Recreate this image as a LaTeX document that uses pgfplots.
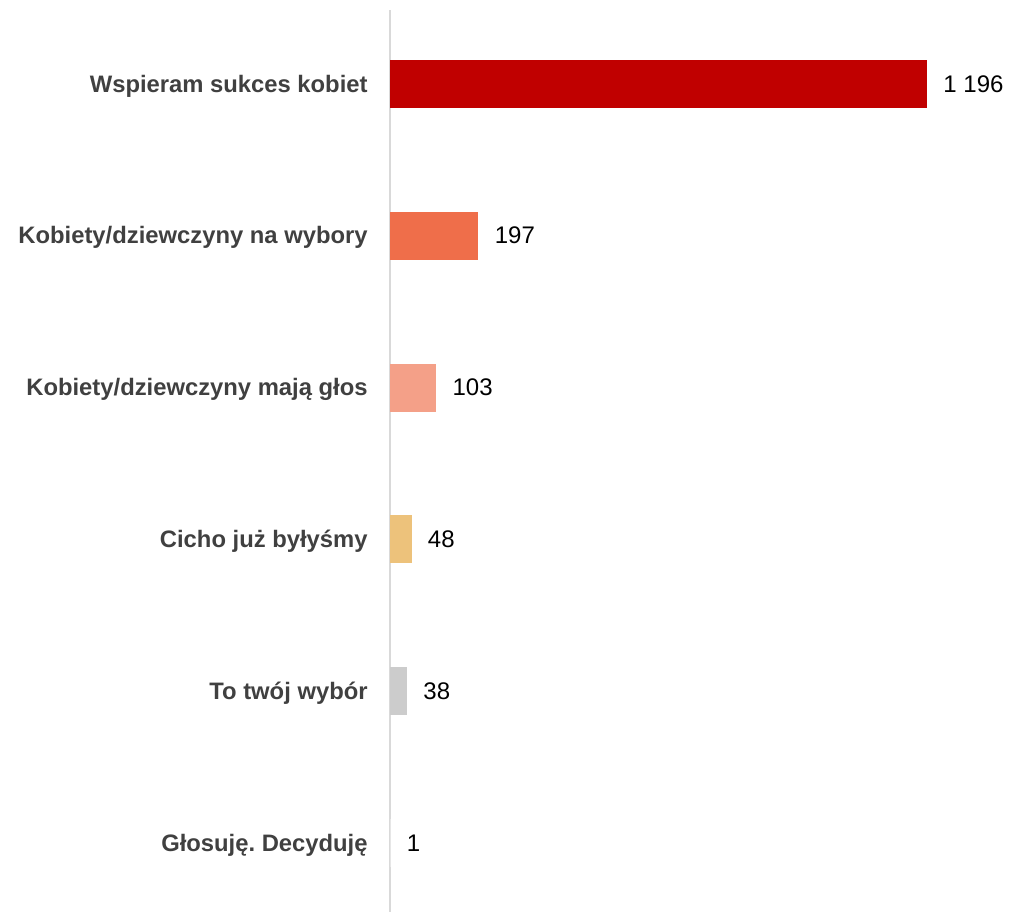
\documentclass[border=0pt]{standalone}
\usepackage{fontspec}
\setmainfont{Liberation Sans}
\usepackage{pgfplots}
\pgfplotsset{compat=1.18}
\definecolor{c1}{HTML}{C00000}
\definecolor{c2}{HTML}{EF6E4A}
\definecolor{c3}{HTML}{F4A088}
\definecolor{c4}{HTML}{EDC27B}
\definecolor{c5}{HTML}{CCCCCC}
\definecolor{c6}{HTML}{E6E6E6}
\definecolor{lab}{HTML}{404040}
\definecolor{axl}{HTML}{D9D9D9}
\begin{document}
\frenchspacing
\fontsize{12}{14.4}\selectfont
\begin{tikzpicture}
\path[use as bounding box] (0,0) rectangle (504.5pt,456pt);
\begin{axis}[
  at={(195pt,0pt)}, anchor=south west,
  scale only axis,
  width=291.9pt, height=451pt,
  xmin=0, xmax=1300,
  ymin=-0.487, ymax=5.455,
  y dir=reverse,
  axis x line=none,
  axis y line=left,
  y axis line style={draw=axl, line width=1pt, -},
  ytick={0,1,2,3,4,5},
  yticklabels={Wspieram sukces kobiet, Kobiety/dziewczyny na wybory, Kobiety/dziewczyny mają głos, Cicho już byłyśmy, To twój wybór, Głosuję.\ Decyduję},
  yticklabel style={font=\fontsize{11.9}{14.4}\selectfont\bfseries, text=lab, anchor=east, inner sep=0pt, xshift=-11pt, yshift=-1pt},
  major tick length=0pt,
  xbar, bar width=24pt, bar shift=0pt,
  /pgf/number format/assume math mode=true,
  /pgf/number format/1000 sep={\ },
  nodes near coords,
  nodes near coords style={font=\fontsize{12}{14.4}\selectfont, text=black, anchor=west, inner sep=0pt, xshift=8pt},
  clip=false,
]
\addplot[fill=c1, draw=none] coordinates {(1196,0)};
\addplot[fill=c2, draw=none] coordinates {(197,1)};
\addplot[fill=c3, draw=none] coordinates {(103,2)};
\addplot[fill=c4, draw=none] coordinates {(48,3)};
\addplot[fill=c5, draw=none] coordinates {(38,4)};
\addplot[fill=c6, draw=none] coordinates {(1,5)};
\end{axis}
\end{tikzpicture}
\end{document}
